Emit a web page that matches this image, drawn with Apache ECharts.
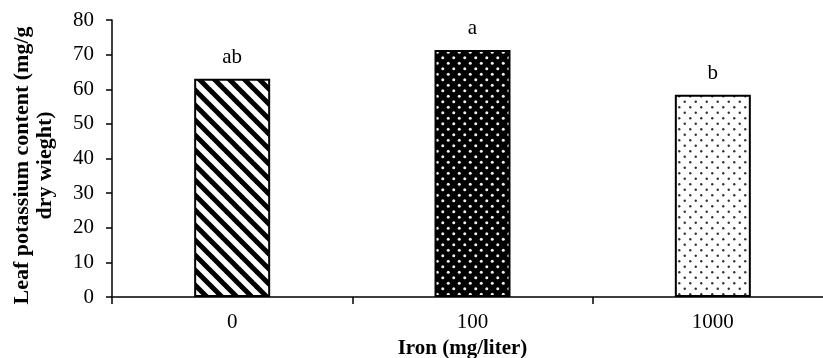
<!DOCTYPE html>
<html>
<head>
<meta charset="utf-8">
<script src="https://cdn.jsdelivr.net/npm/echarts@6/dist/echarts.min.js"></script>
<style>
  html, body { margin: 0; padding: 0; background: #fff; }
  #chart { width: 823px; height: 358px; }
</style>
</head>
<body>
<div id="chart"></div>
<script>
const categories = ['0', '100', '1000'];
const potassium = [63, 71.3, 58.4];
const letters = ['ab', 'a', 'b'];
const yTicks = { min: 0, max: 80, interval: 10 };

// pattern tiles for the bar fills
function stripeTile() {
  const c = document.createElement('canvas');
  c.width = 15; c.height = 15;
  const g = c.getContext('2d');
  g.fillStyle = '#fff';
  g.fillRect(0, 0, 15, 15);
  g.strokeStyle = '#000';
  g.lineWidth = 5;
  [-15, 0, 15].forEach(k => {
    g.beginPath();
    g.moveTo(-2, k - 2);
    g.lineTo(17, 17 + k);
    g.stroke();
  });
  return c;
}

function dotTile(bg, dot, r) {
  const c = document.createElement('canvas');
  c.width = 11; c.height = 11;
  const g = c.getContext('2d');
  g.fillStyle = bg;
  g.fillRect(0, 0, 11, 11);
  g.fillStyle = dot;
  [[2.75, 2.75], [8.25, 8.25]].forEach(p => {
    g.beginPath();
    g.arc(p[0], p[1], r, 0, Math.PI * 2);
    g.fill();
  });
  return c;
}

const fills = [
  { image: stripeTile(), repeat: 'repeat' },
  { image: dotTile('#000', '#f0f0f0', 1.5), repeat: 'repeat' },
  { image: dotTile('#fff', '#333', 1.2), repeat: 'repeat' }
];

const chart = echarts.init(document.getElementById('chart'));
const font = '"Liberation Serif", "Times New Roman", serif';

chart.setOption({
  animation: false,
  grid: { left: 112, top: 20, bottom: 61, right: -10, outerBoundsMode: 'none' },
  xAxis: {
    type: 'category',
    data: categories,
    name: 'Iron (mg/liter)',
    nameLocation: 'middle',
    nameGap: 35,
    nameTextStyle: {
      fontFamily: font, fontSize: 21, fontWeight: 'bold', color: '#000',
      verticalAlign: 'top', padding: [0, 20, 0, 0]
    },
    axisLine: { lineStyle: { color: '#000', width: 1.5 } },
    axisTick: { show: true, length: 7, lineStyle: { color: '#000', width: 1.5 } },
    axisLabel: { fontFamily: font, fontSize: 21, color: '#000', margin: 15 }
  },
  yAxis: {
    type: 'value',
    min: yTicks.min,
    max: yTicks.max,
    interval: yTicks.interval,
    name: 'Leaf potassium content (mg/g\ndry wieght)',
    nameLocation: 'middle',
    nameGap: 55,
    nameTextStyle: {
      fontFamily: font, fontSize: 22, fontWeight: 'bold', color: '#000',
      lineHeight: 23, align: 'center', padding: [0, 14, 0, 0]
    },
    axisLine: { show: true, lineStyle: { color: '#000', width: 1.5 } },
    axisTick: { show: true, length: 6, lineStyle: { color: '#000', width: 1.5 } },
    axisLabel: { fontFamily: font, fontSize: 21, color: '#000', margin: 18 },
    splitLine: { show: false }
  },
  series: [
    {
      type: 'bar',
      barWidth: 76,
      data: potassium.map((v, i) => ({
        value: v,
        itemStyle: { color: fills[i], borderColor: '#000', borderWidth: 2 },
        label: {
          show: true,
          position: 'top',
          distance: 11,
          formatter: letters[i],
          fontFamily: font,
          fontSize: 21,
          color: '#000'
        }
      }))
    }
  ]
});
</script>
</body>
</html>
